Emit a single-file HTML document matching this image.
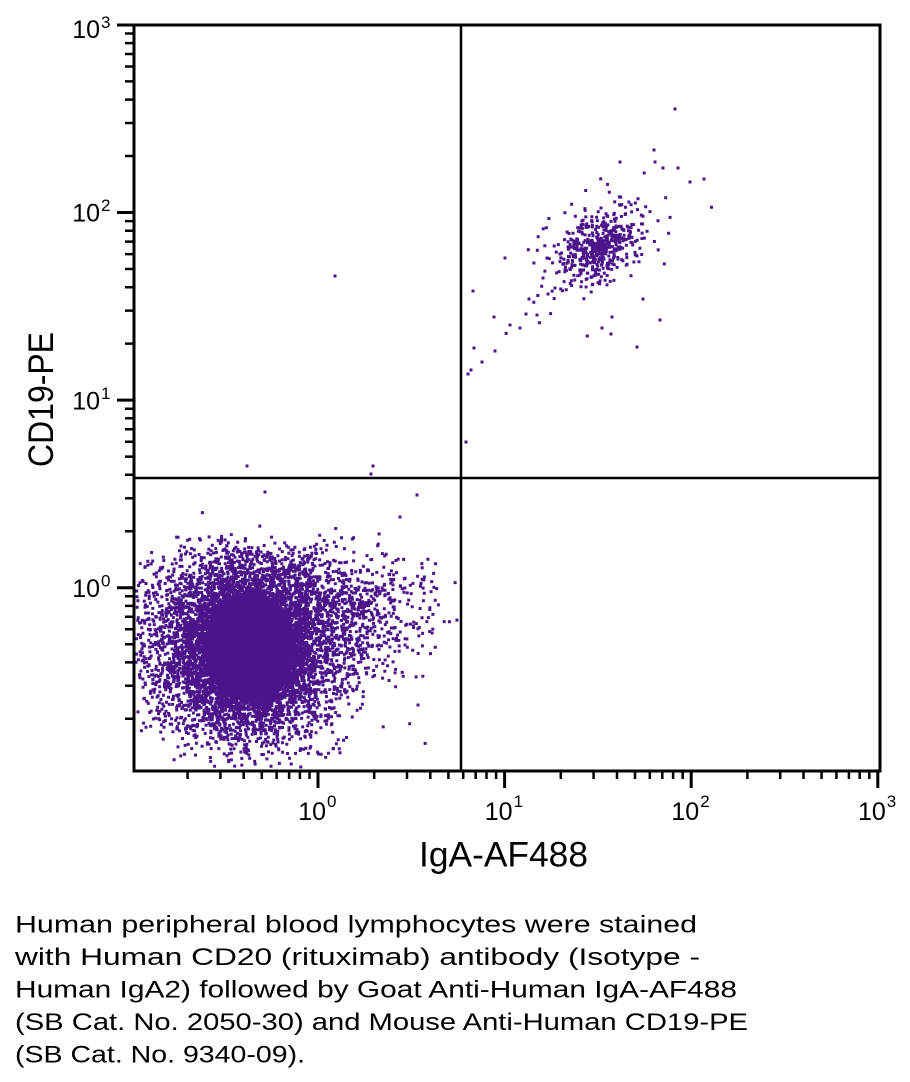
<!DOCTYPE html>
<html><head><meta charset="utf-8"><style>
html,body{margin:0;padding:0;background:#fff;}
svg{display:block;}
</style></head><body>
<svg width="910" height="1082" viewBox="0 0 910 1082" xmlns="http://www.w3.org/2000/svg">
<rect x="0" y="0" width="910" height="1082" fill="#fff"/>
<g id="data" fill="#4b148a">
<ellipse cx="250" cy="647" rx="46" ry="55"/>
<path id="dots" d=""/>
<path d="M333.5 274.5h3v3h-3z M245.5 464.5h3v3h-3z M371.5 464.5h3v3h-3z M369.5 472.5h3v3h-3z M263.5 490.5h3v3h-3z M415.5 493.5h3v3h-3z M398.5 515.5h3v3h-3z M673.5 107.5h3v3h-3z M652.5 148.5h3v3h-3z M653.5 160.5h3v3h-3z M676.5 166.5h3v3h-3z M688.5 180.5h3v3h-3z M702.5 177.5h3v3h-3z M618.5 160.5h3v3h-3z M661.5 166.5h3v3h-3z M471.5 289.5h3v3h-3z M503.5 256.5h3v3h-3z M492.5 315.5h3v3h-3z M480.5 360.5h3v3h-3z M493.5 349.5h3v3h-3z M518.5 326.5h3v3h-3z M524.5 312.5h3v3h-3z M535.5 313.5h3v3h-3z M527.5 297.5h3v3h-3z M635.5 345.5h3v3h-3z M658.5 318.5h3v3h-3z M600.5 326.5h3v3h-3z M609.5 332.5h3v3h-3z M610.5 315.5h3v3h-3z M641.5 297.5h3v3h-3z M466.5 372.5h3v3h-3z M469.5 368.5h3v3h-3z M464.5 440.5h3v3h-3z M472.5 346.5h3v3h-3z M508.5 323.5h3v3h-3z M546.5 292.5h3v3h-3z M553.5 286.5h3v3h-3z M541.5 276.5h3v3h-3z"/>
</g>
<!-- frame -->
<rect x="134" y="25" width="746" height="746" fill="none" stroke="#000" stroke-width="3"/>
<!-- quadrant lines -->
<line x1="461" y1="25" x2="461" y2="771" stroke="#000" stroke-width="2.5"/>
<line x1="134" y1="478" x2="880" y2="478" stroke="#000" stroke-width="2.5"/>
<!-- x ticks -->
<path stroke="#000" stroke-width="3" fill="none" d="M318 771V788 M504.6 771V788 M691.2 771V788 M877.8 771V788"/>
<path stroke="#000" stroke-width="2.5" fill="none" d="M187.6 771V779 M220.4 771V779 M243.7 771V779 M261.8 771V779 M276.6 771V779 M289.1 771V779 M299.9 771V779 M309.5 771V779
M374.2 771V779 M407 771V779 M430.3 771V779 M448.4 771V779 M463.2 771V779 M475.7 771V779 M486.5 771V779 M496.1 771V779
M560.8 771V779 M593.6 771V779 M617 771V779 M635 771V779 M649.8 771V779 M662.3 771V779 M673.1 771V779 M682.7 771V779
M747.4 771V779 M780.2 771V779 M803.5 771V779 M821.6 771V779 M836.4 771V779 M848.9 771V779 M859.7 771V779 M869.3 771V779"/>
<!-- y ticks -->
<path stroke="#000" stroke-width="3" fill="none" d="M117 587.7H134 M117 400.1H134 M117 212.5H134 M117 25H134"/>
<path stroke="#000" stroke-width="2.5" fill="none" d="M125 718.8H134 M125 685.8H134 M125 662.4H134 M125 644.2H134 M125 629.3H134 M125 616.8H134 M125 605.9H134 M125 596.3H134
M125 531.2H134 M125 498.2H134 M125 474.8H134 M125 456.6H134 M125 441.7H134 M125 429.2H134 M125 418.3H134 M125 408.7H134
M125 343.6H134 M125 310.6H134 M125 287.2H134 M125 269H134 M125 254.1H134 M125 241.6H134 M125 230.7H134 M125 221.1H134
M125 156H134 M125 123H134 M125 99.6H134 M125 81.4H134 M125 66.5H134 M125 54H134 M125 43.1H134 M125 33.5H134"/>
<!-- tick labels -->
<g font-family="'Liberation Sans', Arial, sans-serif" fill="#000">
<g font-size="25" text-anchor="end">
<text x="100" y="38">10</text>
<text x="100" y="221.7">10</text>
<text x="100" y="409.3">10</text>
<text x="100" y="596.9">10</text>
<text x="326" y="820">10</text>
<text x="512.6" y="820">10</text>
<text x="699.2" y="820">10</text>
<text x="885.8" y="820">10</text>
</g>
<g font-size="17">
<text x="101" y="28">3</text>
<text x="101" y="211.2">2</text>
<text x="101" y="398.8">1</text>
<text x="101" y="586.4">0</text>
<text x="327" y="807">0</text>
<text x="513.6" y="807">1</text>
<text x="700.2" y="807">2</text>
<text x="886.8" y="807">3</text>
</g>
</g>
<!-- axis titles -->
<text x="419" y="866.5" font-family="'Liberation Sans', Arial, sans-serif" font-size="35" textLength="169" lengthAdjust="spacingAndGlyphs">IgA-AF488</text>
<text transform="translate(53,467) rotate(-90)" x="0" y="0" font-family="'Liberation Sans', Arial, sans-serif" font-size="35" textLength="135" lengthAdjust="spacingAndGlyphs">CD19-PE</text>
<!-- caption -->
<g font-family="'Liberation Sans', Arial, sans-serif" font-size="24" fill="#000">
<text x="15" y="932.5" textLength="682" lengthAdjust="spacingAndGlyphs">Human peripheral blood lymphocytes were stained</text>
<text x="15" y="965" textLength="685" lengthAdjust="spacingAndGlyphs">with Human CD20 (rituximab) antibody (Isotype -</text>
<text x="15" y="997.5" textLength="722" lengthAdjust="spacingAndGlyphs">Human IgA2) followed by Goat Anti-Human IgA-AF488</text>
<text x="15" y="1030" textLength="733" lengthAdjust="spacingAndGlyphs">(SB Cat. No. 2050-30) and Mouse Anti-Human CD19-PE</text>
<text x="15" y="1062.5" textLength="290" lengthAdjust="spacingAndGlyphs">(SB Cat. No. 9340-09).</text>
</g>
</svg>
<script>
(function(){
  var s = 20240611;
  function r(){ s ^= s << 13; s ^= s >>> 17; s ^= s << 5; return (s >>> 0) / 4294967296; }
  function g(){ var u = r() || 1e-9, v = r(); return Math.sqrt(-2*Math.log(u)) * Math.cos(2*Math.PI*v); }
  var d = [];
  function dot(x,y){ d.push('M'+(x-1.5).toFixed(1)+' '+(y-1.5).toFixed(1)+'h3v3h-3z'); }
  function pop(cx,cy,sx,sy,rho,n,x0,x1,y0,y1){
    var k = Math.sqrt(1-rho*rho);
    for (var i=0;i<n;i++){
      var a=g(), b=g();
      var x=cx+sx*a, y=cy+sy*(rho*a+k*b);
      if (x<x0||x>x1||y<y0||y>y1) continue;
      dot(x,y);
    }
  }
  // lower-left population
  pop(250,648,38,42,0,5500,136,457,545,768);
  pop(243,642,58,50,-0.05,3000,136,457,535,768);
  pop(345,615,45,30,-0.2,650,136,457,530,768);
  pop(260,640,85,50,-0.1,280,136,457,505,768);
  // upper-right population
  pop(598,247,18,17,-0.3,420,463,880,27,476);
  pop(600,245,34,30,-0.35,120,463,880,27,476);
  document.getElementById('dots').setAttribute('d', d.join(''));
})();
</script>
</body></html>
